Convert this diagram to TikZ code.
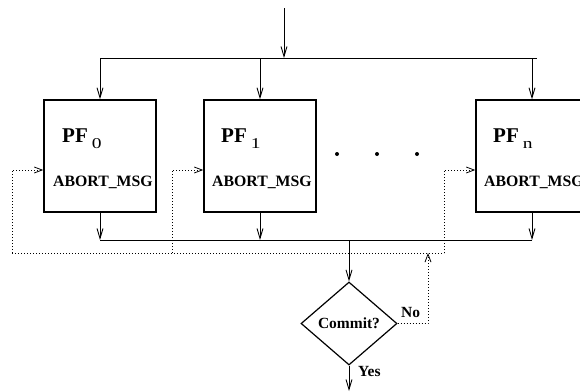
\documentclass[tikz,border=0pt]{standalone}
\usepackage{fontspec}
\setmainfont{Liberation Serif}
\usetikzlibrary{arrows.meta,shapes.geometric}
\begin{document}
\begin{tikzpicture}[x=1pt,y=-1pt,
  tip/.style={-{Straight Barb[length=10pt,width=6pt,line width=0.9pt]}},
  conn/.style={line width=0.9pt, tip},
  plain/.style={line width=0.9pt},
  fb/.style={line width=0.8pt, dash pattern=on 1pt off 2pt},
  fbarrow/.style={fb, -{Straight Barb[length=8pt,width=6pt,line width=0.8pt]}},
  pfbox/.style={draw, line width=1.4pt, minimum width=112pt, minimum height=112pt, inner sep=0pt},
  pflabel/.style={anchor=base west, inner sep=0pt, font=\fontsize{21}{22}\selectfont\bfseries},
  msg/.style={anchor=base west, inner sep=0pt, font=\fontsize{15.8}{16}\selectfont\bfseries},
  small/.style={inner sep=0pt, font=\fontsize{15.5}{16}\selectfont\bfseries},
  decision/.style={diamond, draw, line width=1.2pt, minimum width=96pt, minimum height=83pt, inner sep=0pt, font=\fontsize{15.5}{16}\selectfont\bfseries},
  dot/.style={circle, fill, inner sep=0pt, minimum size=4pt}]
\clip (0,0) rectangle (580,391);
% boxes
\node[pfbox] (b0) at (100,156) {};
\node[pfbox] (b1) at (260,156) {};
\node[pfbox] (bn) at (532,156) {};
% labels
\node[pflabel] (l0) at (62,142) {PF\kern4pt\raisebox{-6pt}{\fontsize{15}{15}\selectfont\mdseries\scalebox{1.3}[1]{0}}};
\node[pflabel] (l1) at (221,142) {PF\kern4pt\raisebox{-6pt}{\fontsize{15}{15}\selectfont\mdseries\scalebox{1.3}[1]{1}}};
\node[pflabel] (ln) at (493,142) {PF\kern4pt\raisebox{-6pt}{\fontsize{15}{15}\selectfont\mdseries\scalebox{1.3}[1]{n}}};
\node[msg] (m0) at (53,186) {ABORT\_MSG};
\node[msg] (m1) at (212,186) {ABORT\_MSG};
\node[msg] (mn) at (484,186) {ABORT\_MSG};
% dots
\node[dot] (d1) at (337,154) {};
\node[dot] (d2) at (377,154) {};
\node[dot] (d3) at (417,154) {};
% decision
\node[decision] (dc) at (349,323.5) {Commit?};
\node[small, anchor=base west] (no) at (401,317) {No};
\node[small, anchor=base west] (yes) at (358,376) {Yes};
% top distribution
\coordinate (in) at (284,8);
\coordinate (tj) at (284,58);
\coordinate (tl) at (100,58);
\coordinate (tr) at (537,58);
\draw[conn] (in) -- (tj);
\draw[plain] (tl) -- (tr);
\draw[conn] (tl) -- (b0.north);
\draw[conn] (b1.north |- tl) -- (b1.north);
\draw[conn] (bn.north |- tl) -- (bn.north);
% bottom collection
\coordinate (bl) at (100,240);
\coordinate (br) at (532,240);
\draw[plain] (bl) -- (br);
\draw[conn] (b0.south) -- (bl);
\draw[conn] (b1.south) -- (b1.south |- bl);
\draw[conn] (bn.south) -- (br);
\draw[conn] (dc.north |- bl) -- (dc.north);
\coordinate (out) at (349,391);
\draw[conn] (dc.south) -- (out);
% feedback (dotted)
\coordinate (fl) at (12,253);
\coordinate (fr) at (444,253);
\coordinate (fm) at (172,253);
\coordinate (fu) at (428,253);
\draw[fbarrow] (dc.east) -| (fu);
\draw[fb] (fl) -- (fr);
\draw[fbarrow] (fl) |- (b0.west |- 0,170);
\draw[fbarrow] (fm) |- (b1.west |- 0,170);
\draw[fbarrow] (fr) |- (bn.west |- 0,170);
\end{tikzpicture}
\end{document}
